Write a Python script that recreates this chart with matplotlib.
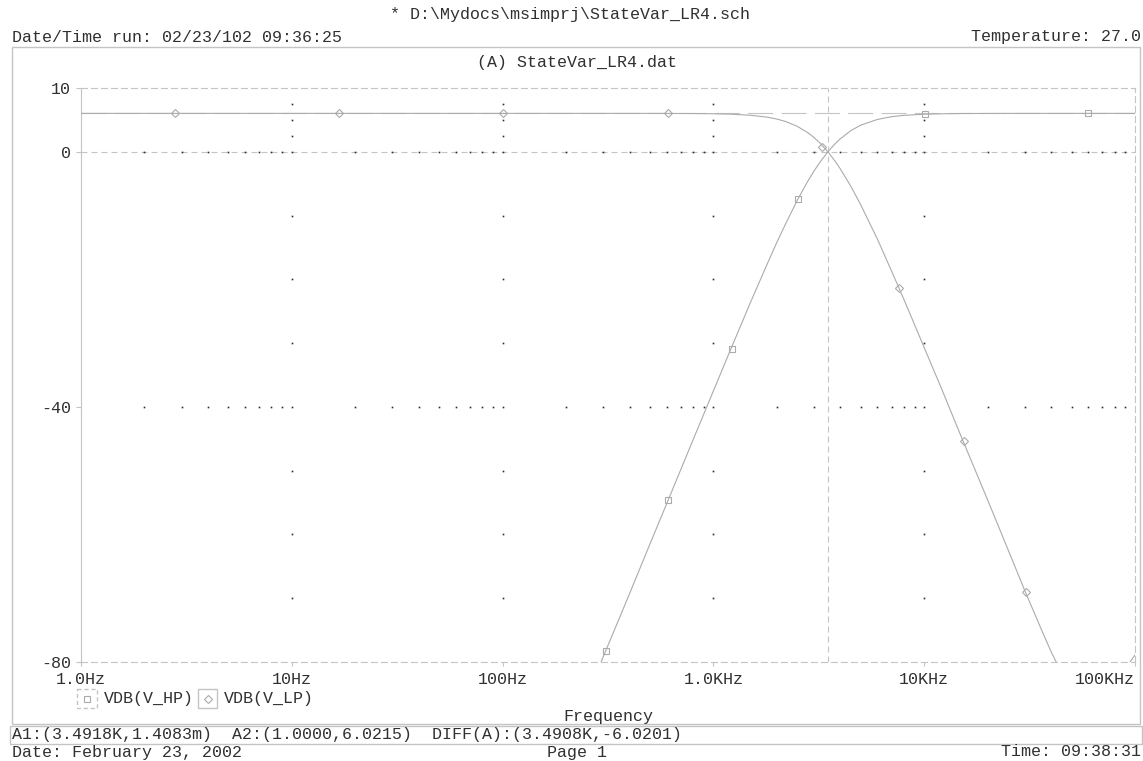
import numpy as np
import matplotlib
matplotlib.use("Agg")
import matplotlib.pyplot as plt
from matplotlib.patches import Rectangle

plt.rcParams['font.family'] = ['Liberation Mono', 'DejaVu Sans Mono']
plt.rcParams['axes.unicode_minus'] = False
plt.rcParams['lines.scale_dashes'] = False

W, H = 1143, 761
TXT = '#303030'
FRAME = '#c4c4c4'
TRACE = '#ababab'

# VDB(V_HP) sweep, Hz / dB
freq_hp = [200, 300, 400, 500, 600, 800, 1000, 1200, 1500, 1800, 2000, 2200,
           2500, 2800, 3000, 3200, 3500, 3800, 4000, 4500, 5000, 6000, 7000,
           8000, 10000, 12000, 15000, 20000, 30000, 50000, 100000]
vdb_hp = [-93.3, -79.2, -69.3, -61.5, -55.2, -45.2, -37.5, -31.2, -23.6, -17.6,
          -14.2, -11.3, -7.6, -4.65, -3.03, -1.65, 0.04, 1.35, 2.04, 3.34, 4.17,
          5.07, 5.50, 5.71, 5.89, 5.95, 6.00, 6.01, 6.02, 6.02, 6.02]

# VDB(V_LP) sweep, Hz / dB
freq_lp = [1, 100, 300, 500, 600, 800, 1000, 1200, 1500, 1800, 2000, 2200, 2500,
           2800, 3000, 3200, 3500, 3800, 4000, 4500, 5000, 6000, 7000, 8000,
           10000, 12000, 15000, 20000, 25000, 30000, 35000, 40000, 45000, 50000,
           60000, 70000, 80000, 90000, 100000]
vdb_lp = [6.02, 6.02, 6.02, 6.02, 6.01, 6.00, 5.96, 5.90, 5.73, 5.43, 5.13, 4.75,
          3.99, 3.01, 2.24, 1.38, -0.04, -1.60, -2.68, -5.48, -8.31, -13.7, -18.7,
          -23.1, -30.7, -36.9, -44.7, -54.6, -62.4, -68.8, -74.0, -78.4, -81.8,
          -84.0, -86.0, -86.0, -84.5, -81.0, -78.9]

# symbol positions on each trace
hp_mark_f = [309, 609, 1225, 2519, 10090, 59800]
hp_mark_db = [-78.2, -54.6, -30.9, -7.4, 5.9, 6.02]
lp_mark_f = [2.79, 16.7, 100, 609, 3275, 7590, 15450, 30400]
lp_mark_db = [6.02, 6.02, 6.02, 6.02, 0.8, -21.4, -45.4, -69.1]

# probe cursors (freq, dB)
cursor_a1 = (3491.8, 0.0014083)
cursor_a2 = (1.0, 6.0215)

y_ticks = [10, 0, -40, -80]
x_ticks = [1, 10, 100, 1e3, 1e4, 1e5]
x_labels = ['1.0Hz', '10Hz', '100Hz', '1.0KHz', '10KHz', '100KHz']

fig = plt.figure(figsize=(W / 100, H / 100), dpi=100)
fig.patch.set_facecolor('white')

# page overlay in pixel units
page = fig.add_axes([0, 0, 1, 1])
page.set_xlim(0, W)
page.set_ylim(H, 0)
page.axis('off')

def px_box(x0, y0, x1, y1, **kw):
    page.add_patch(Rectangle((x0, y0), x1 - x0, y1 - y0, fill=False, **kw))

px_box(12, 47, 1140, 724, edgecolor=FRAME, lw=1)
px_box(10, 726, 1142, 744, edgecolor=FRAME, lw=1)

def put(x, y, s, ha='left'):
    page.text(x, y, s, ha=ha, va='center', fontsize=12, color=TXT)

put(570, 14, '* D:\\Mydocs\\msimprj\\StateVar_LR4.sch', ha='center')
put(12, 37, 'Date/Time run: 02/23/102 09:36:25')
put(1141, 37, 'Temperature: 27.0', ha='right')
put(577, 62, '(A) StateVar_LR4.dat', ha='center')
put(608, 716, 'Frequency', ha='center')
put(12, 735, 'A1:(%.4fK,%.4fm)  A2:(%.4f,%.4f)  DIFF(A):(%.4fK,%.4f)' % (
    cursor_a1[0] / 1000, cursor_a1[1] * 1000, cursor_a2[0], cursor_a2[1],
    (cursor_a1[0] - cursor_a2[0]) / 1000, cursor_a1[1] - cursor_a2[1]))
put(12, 752, 'Date: February 23, 2002')
put(577, 752, 'Page 1', ha='center')
put(1141, 752, 'Time: 09:38:31', ha='right')

# legend under the x axis
px_box(77, 689, 97, 708, edgecolor=FRAME, lw=1, linestyle=(0, (3, 2)))
page.plot([87], [698.5], marker='s', ms=4.5, mfc='none', mec=TRACE, mew=0.8)
put(104, 698, 'VDB(V_HP)')
px_box(198, 689, 217, 708, edgecolor=FRAME, lw=1)
page.plot([207.5], [698.5], marker='D', ms=3.6, mfc='none', mec=TRACE, mew=0.8)
put(224, 698, 'VDB(V_LP)')

# plot area
ax = fig.add_axes([81 / W, 1 - 662 / H, (1135 - 81) / W, (662 - 88) / H])
ax.set_facecolor('none')
ax.set_xscale('log')
ax.set_xlim(1, 1e5)
ax.set_ylim(-80, 10)

dash = (0, (4.3, 2.9))
for side in ['top', 'bottom', 'right']:
    ax.spines[side].set_linestyle(dash)
    ax.spines[side].set_color(FRAME)
    ax.spines[side].set_linewidth(0.8)
ax.spines['left'].set_color(FRAME)
ax.spines['left'].set_linewidth(0.8)

ax.set_yticks(y_ticks)
ax.set_yticklabels([str(v) for v in y_ticks])
ax.set_xticks(x_ticks)
ax.set_xticklabels(x_labels)
ax.minorticks_off()
ax.tick_params(axis='y', direction='out', length=3.6, width=0.8, color=FRAME,
               pad=3.5, labelsize=12, labelcolor=TXT)
ax.tick_params(axis='x', direction='out', length=3, width=0.8, color=FRAME,
               pad=4, labelsize=12, labelcolor=TXT)
xl = ax.get_xticklabels()
xl[-1].set_horizontalalignment('right')
xl[-1].set_x(1e5)

# cursors
ax.axhline(cursor_a1[1], color=FRAME, lw=0.8, ls=dash, zorder=1)
ax.axvline(cursor_a1[0], color=FRAME, lw=0.8, ls=dash, zorder=1)
ax.axhline(cursor_a2[1], color=FRAME, lw=0.8, ls=(0, (18, 6)), zorder=1)

# dotted grid: decade columns and the 0 / -40 rows
decades = [10, 100, 1e3, 1e4]
col_levels = [7.5, 5, 2.5, 0, -10, -20, -30, -40, -50, -60, -70]
for d in decades:
    ax.plot([d] * len(col_levels), col_levels, ls='none', marker='s', ms=1.2,
            mfc='#2e2e2e', mec='none', zorder=4)
row_f = [d * k for d in [1, 10, 100, 1e3, 1e4] for k in range(2, 10)]
for lvl in [0, -40]:
    ax.plot(row_f, [lvl] * len(row_f), ls='none', marker='s', ms=1.2,
            mfc='#2e2e2e', mec='none', zorder=4)

# traces
ax.plot(freq_hp, vdb_hp, color=TRACE, lw=0.8, zorder=3)
ax.plot(freq_lp, vdb_lp, color=TRACE, lw=0.8, zorder=3)
ax.plot(hp_mark_f, hp_mark_db, ls='none', marker='s', ms=4.5, mfc='none',
        mec=TRACE, mew=0.8, zorder=3)
ax.plot(lp_mark_f, lp_mark_db, ls='none', marker='D', ms=3.6, mfc='none',
        mec=TRACE, mew=0.8, zorder=3)

fig.savefig('out.png', dpi=100, facecolor='white')
